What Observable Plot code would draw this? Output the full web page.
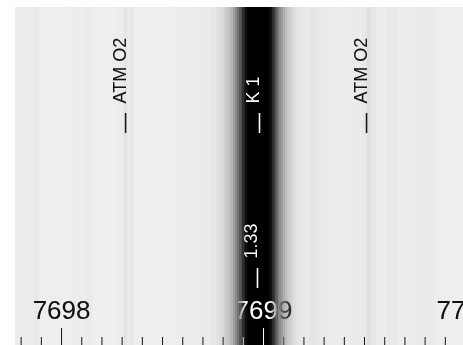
<!DOCTYPE html>
<html>
<head>
<meta charset="utf-8">
<script src="https://cdn.jsdelivr.net/npm/d3@7"></script>
<script src="https://cdn.jsdelivr.net/npm/@observablehq/plot@0.6"></script>
<style>
  html, body { margin: 0; padding: 0; background: white; overflow: hidden; }
  svg { display: block; }
</style>
</head>
<body>
<div id="chart"></div>
<script>
// Spectrum samples: wavelength (Å) and gray level (0 = black, 255 = white)
const wavelength = [
  7697.772, 7697.822, 7697.861, 7697.881, 7697.901, 7697.995, 7698.094, 7698.144,
  7698.168, 7698.243, 7698.302, 7698.317, 7698.332, 7698.351, 7698.371, 7698.490,
  7698.639, 7698.713, 7698.762, 7698.777, 7698.787, 7698.797, 7698.812, 7698.822,
  7698.837, 7698.847, 7698.856, 7698.866, 7698.876, 7698.886, 7698.891, 7698.901,
  7698.906, 7698.916, 7698.921, 7698.931, 7699.025, 7699.035, 7699.040, 7699.050,
  7699.054, 7699.064, 7699.069, 7699.079, 7699.084, 7699.094, 7699.104, 7699.114,
  7699.124, 7699.134, 7699.149, 7699.158, 7699.173, 7699.188, 7699.208, 7699.248,
  7699.282, 7699.381, 7699.480, 7699.505, 7699.520, 7699.535, 7699.579, 7699.644,
  7699.678, 7699.832, 7699.876, 7699.990
];
const grayLevel = [
  236, 237, 236, 233, 238, 238, 237, 235,
  239, 238, 236, 228, 234, 232, 238, 238,
  236, 234, 230, 226, 222, 217, 208, 200,
  190, 177, 160, 138, 115, 88, 75, 48,
  35, 15, 5, 0, 0, 10, 20, 45,
  60, 85, 100, 128, 140, 158, 175, 188,
  200, 208, 218, 223, 228, 231, 233, 229,
  234, 236, 235, 231, 222, 230, 236, 232,
  237, 234, 238, 238
];

// Line identifications
const lineNames = ["ATM O2", "K 1", "ATM O2"];
const lineWavelengths = [7698.317, 7698.980, 7699.510];
const eqwLabels = ["1.33"];
const eqwWavelengths = [7698.970];

// Axis ticks
const majorTicks = [7698, 7699, 7700];
const majorTickLabels = ["7698", "7699", "7700"];
const minorTicks = [
  7697.8, 7697.9, 7698.1, 7698.2, 7698.3, 7698.4, 7698.5, 7698.6, 7698.7, 7698.8, 7698.9,
  7699.1, 7699.2, 7699.3, 7699.4, 7699.5, 7699.6, 7699.7, 7699.8, 7699.9
];

const xDomain = [7697.772, 7699.99];

const spectrum = wavelength.map((w, i) => ({
  x1: i === 0 ? xDomain[0] : (wavelength[i - 1] + w) / 2,
  x2: i === wavelength.length - 1 ? xDomain[1] : (w + wavelength[i + 1]) / 2 + 0.002,
  fill: `rgb(${grayLevel[i]},${grayLevel[i]},${grayLevel[i]})`
}));

const lines = lineNames.map((t, i) => ({ x: lineWavelengths[i], text: t }));
const eqw = eqwLabels.map((t, i) => ({ x: eqwWavelengths[i], text: t }));
const majors = majorTicks.map((x, i) => ({ x, text: majorTickLabels[i] }));

const font = "'Liberation Sans', Arial, sans-serif";

const chart = Plot.plot({
  width: 463,
  height: 345,
  marginLeft: 15,
  marginTop: 7,
  marginRight: 0,
  marginBottom: 0,
  style: { background: "white", fontFamily: font, overflow: "hidden" },
  x: { domain: xDomain, axis: null },
  y: { domain: [0, 338], axis: null },
  color: { type: "identity" },
  marks: [
    Plot.rect(spectrum, { x1: "x1", x2: "x2", y1: 0, y2: 338, fill: "fill", shapeRendering: "crispEdges" }),
    // minor & major ticks
    Plot.ruleX(minorTicks, { x: d => d, y1: 0, y2: 8, stroke: "white", strokeWidth: 1, mixBlendMode: "difference" }),
    Plot.ruleX(majors, { x: "x", y1: 0, y2: 17, stroke: "white", strokeWidth: 1, mixBlendMode: "difference" }),
    Plot.text(majors, {
      x: "x", y: 27, text: "text", fontSize: 26, letterSpacing: 2.5,
      textAnchor: "middle", lineAnchor: "bottom",
      fill: "white", mixBlendMode: "difference", fontFamily: font
    }),
    // line markers
    Plot.ruleX(lines, { x: "x", y1: 212, y2: 232, stroke: "white", strokeWidth: 1.6, mixBlendMode: "difference" }),
    Plot.text(lines, {
      x: "x", y: 242, text: "text", rotate: -90, fontSize: 18, letterSpacing: 2.5,
      textAnchor: "start", lineAnchor: "bottom", dx: 0,
      fill: "white", mixBlendMode: "difference", fontFamily: font
    }),
    Plot.ruleX(eqw, { x: "x", y1: 57, y2: 77, stroke: "white", strokeWidth: 1.6, mixBlendMode: "difference" }),
    Plot.text(eqw, {
      x: "x", y: 87, text: "text", rotate: -90, fontSize: 18, letterSpacing: 2.5,
      textAnchor: "start", lineAnchor: "bottom", dx: 0,
      fill: "white", mixBlendMode: "difference", fontFamily: font
    })
  ]
});

document.getElementById("chart").appendChild(chart);
</script>
</body>
</html>
